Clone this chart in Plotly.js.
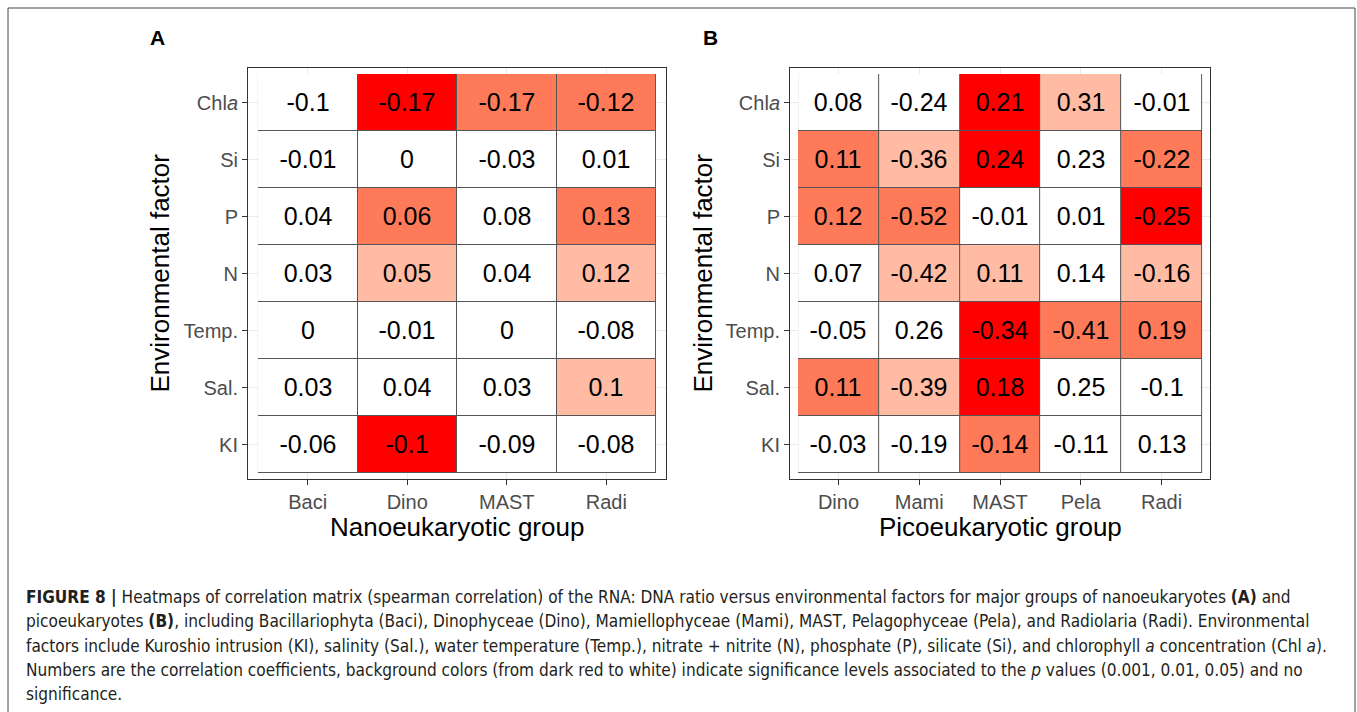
<!DOCTYPE html>
<html>
<head>
<meta charset="utf-8">
<script src="https://cdn.plot.ly/plotly-3.0.1.min.js"></script>
<style>html,body{margin:0;padding:0;background:#fff;}#chart{width:1357px;height:712px;}</style>
</head>
<body>
<div id="chart"></div>
<script>
// ---- data ----
const factors = ["Chla", "Si", "P", "N", "Temp.", "Sal.", "KI"];
const factorLabels = ["Chl<i>a</i>", "Si", "P", "N", "Temp.", "Sal.", "KI"];

const nanoGroups = ["Baci", "Dino", "MAST", "Radi"];
const nanoCorr = [
  [-0.1, -0.17, -0.17, -0.12],
  [-0.01, 0, -0.03, 0.01],
  [0.04, 0.06, 0.08, 0.13],
  [0.03, 0.05, 0.04, 0.12],
  [0, -0.01, 0, -0.08],
  [0.03, 0.04, 0.03, 0.1],
  [-0.06, -0.1, -0.09, -0.08]
];
// significance: 0 = none, 1 = p<0.05, 2 = p<0.01, 3 = p<0.001
const nanoSig = [
  [0, 3, 2, 2],
  [0, 0, 0, 0],
  [0, 2, 0, 2],
  [0, 1, 0, 1],
  [0, 0, 0, 0],
  [0, 0, 0, 1],
  [0, 3, 0, 0]
];

const picoGroups = ["Dino", "Mami", "MAST", "Pela", "Radi"];
const picoCorr = [
  [0.08, -0.24, 0.21, 0.31, -0.01],
  [0.11, -0.36, 0.24, 0.23, -0.22],
  [0.12, -0.52, -0.01, 0.01, -0.25],
  [0.07, -0.42, 0.11, 0.14, -0.16],
  [-0.05, 0.26, -0.34, -0.41, 0.19],
  [0.11, -0.39, 0.18, 0.25, -0.1],
  [-0.03, -0.19, -0.14, -0.11, 0.13]
];
const picoSig = [
  [0, 0, 3, 1, 0],
  [2, 1, 3, 0, 2],
  [2, 2, 0, 0, 3],
  [0, 1, 1, 0, 1],
  [0, 0, 3, 2, 2],
  [2, 1, 3, 0, 0],
  [0, 0, 2, 0, 0]
];

// ---- styling ----
const W = 1357, H = 712;
const sigColors = ["#FFFFFF", "#FFBBA3", "#FF7A59", "#FF0000"];
const sigScale = [
  [0, sigColors[0]], [0.25, sigColors[0]],
  [0.25, sigColors[1]], [0.5, sigColors[1]],
  [0.5, sigColors[2]], [0.75, sigColors[2]],
  [0.75, sigColors[3]], [1, sigColors[3]]
];
const FONT = "Liberation Sans, Arial, sans-serif";
const CAPFONT = "DejaVu Sans Condensed, Liberation Sans, sans-serif";

function gridTrace(groups, xa, ya) {
  return {
    type: "heatmap", x: groups, y: factors,
    z: factors.map(() => groups.map(() => 0)),
    colorscale: [[0, "#555555"], [1, "#555555"]],
    showscale: false, hoverinfo: "skip", xaxis: xa, yaxis: ya
  };
}
function cellTrace(groups, corr, sig, xa, ya) {
  return {
    type: "heatmap", x: groups, y: factors, z: sig,
    text: corr.map(r => r.map(v => String(v))),
    texttemplate: "%{text}",
    textfont: {family: FONT, size: 25, color: "#000000"},
    colorscale: sigScale, zmin: -0.5, zmax: 3.5,
    xgap: 1, ygap: 1, showscale: false,
    hovertemplate: "%{x} / %{y}: %{text}<extra></extra>",
    xaxis: xa, yaxis: ya
  };
}

function xAxis(groups, domain, anchor) {
  return {
    domain: domain, anchor: anchor, type: "category",
    categoryorder: "array", categoryarray: groups,
    range: [-0.6, groups.length - 0.4],
    showgrid: true, gridcolor: "#EBEBEB", gridwidth: 1,
    showline: true, mirror: true, linecolor: "#333333", linewidth: 1,
    ticks: "outside", ticklen: 5, tickcolor: "#333333", tickwidth: 1,
    tickfont: {family: FONT, size: 20, color: "#4D4D4D"},
    zeroline: false, fixedrange: true
  };
}
function yAxis(domain, anchor) {
  return {
    domain: domain, anchor: anchor, type: "category",
    categoryorder: "array", categoryarray: factors,
    tickvals: factors, ticktext: factorLabels,
    range: [factors.length - 0.4, -0.6],
    showgrid: true, gridcolor: "#EBEBEB", gridwidth: 1,
    showline: true, mirror: true, linecolor: "#333333", linewidth: 1,
    ticks: "outside", ticklen: 5, tickcolor: "#333333", tickwidth: 1,
    tickfont: {family: FONT, size: 20, color: "#4D4D4D"},
    zeroline: false, fixedrange: true
  };
}

const px = v => v / W;
const py = v => (H - v) / H;
const yDom = [py(478.7), py(68.3)];
const xDomA = [px(248), px(666)];
const xDomB = [px(790), px(1210)];

const data = [
  gridTrace(nanoGroups, "x", "y"),
  cellTrace(nanoGroups, nanoCorr, nanoSig, "x", "y"),
  gridTrace(picoGroups, "x2", "y2"),
  cellTrace(picoGroups, picoCorr, picoSig, "x2", "y2")
];

const captionLines = [
  "<b>FIGURE 8 |</b> Heatmaps of correlation matrix (spearman correlation) of the RNA: DNA ratio versus environmental factors for major groups of nanoeukaryotes <b>(A)</b> and",
  "picoeukaryotes <b>(B)</b>, including Bacillariophyta (Baci), Dinophyceae (Dino), Mamiellophyceae (Mami), MAST, Pelagophyceae (Pela), and Radiolaria (Radi). Environmental",
  "factors include Kuroshio intrusion (KI), salinity (Sal.), water temperature (Temp.), nitrate + nitrite (N), phosphate (P), silicate (Si), and chlorophyll <i>a</i> concentration (Chl <i>a</i>).",
  "Numbers are the correlation coefficients, background colors (from dark red to white) indicate significance levels associated to the <i>p</i> values (0.001, 0.01, 0.05) and no",
  "significance."
];

const annotations = [
  {text: "<b>A</b>", x: px(148), y: py(37), xanchor: "left", yanchor: "middle", font: {family: FONT, size: 21, color: "#000"}},
  {text: "<b>B</b>", x: px(701), y: py(37), xanchor: "left", yanchor: "middle", font: {family: FONT, size: 21, color: "#000"}},
  {text: "Nanoeukaryotic group", x: (xDomA[0] + xDomA[1]) / 2, y: py(527), xanchor: "center", yanchor: "middle", font: {family: FONT, size: 26, color: "#000"}},
  {text: "Picoeukaryotic group", x: (xDomB[0] + xDomB[1]) / 2, y: py(527), xanchor: "center", yanchor: "middle", font: {family: FONT, size: 26, color: "#000"}},
  {text: "Environmental factor", x: px(160), y: (yDom[0] + yDom[1]) / 2, textangle: -90, xanchor: "center", yanchor: "middle", font: {family: FONT, size: 26, color: "#000"}},
  {text: "Environmental factor", x: px(703), y: (yDom[0] + yDom[1]) / 2, textangle: -90, xanchor: "center", yanchor: "middle", font: {family: FONT, size: 26, color: "#000"}}
].map(a => Object.assign({xref: "paper", yref: "paper", showarrow: false}, a));

captionLines.forEach((t, i) => {
  annotations.push({
    text: t, xref: "paper", yref: "paper", showarrow: false,
    x: px(24), y: py(597 + i * 24.3), xanchor: "left", yanchor: "middle", align: "left",
    font: {family: CAPFONT, size: 17.1, color: "#231F20"}
  });
});

const layout = {
  width: W, height: H,
  margin: {l: 0, r: 0, t: 0, b: 0},
  paper_bgcolor: "#FFFFFF", plot_bgcolor: "#FFFFFF",
  showlegend: false,
  xaxis: xAxis(nanoGroups, xDomA, "y"),
  yaxis: yAxis(yDom, "x"),
  xaxis2: xAxis(picoGroups, xDomB, "y2"),
  yaxis2: yAxis(yDom, "x2"),
  annotations: annotations,
  shapes: [{
    type: "rect", xref: "paper", yref: "paper",
    x0: px(8), x1: px(1355), y0: -0.05, y1: py(8),
    line: {color: "#444444", width: 1}, fillcolor: "rgba(0,0,0,0)", layer: "below"
  }]
};

Plotly.newPlot("chart", data, layout, {displayModeBar: false});
</script>
</body>
</html>
